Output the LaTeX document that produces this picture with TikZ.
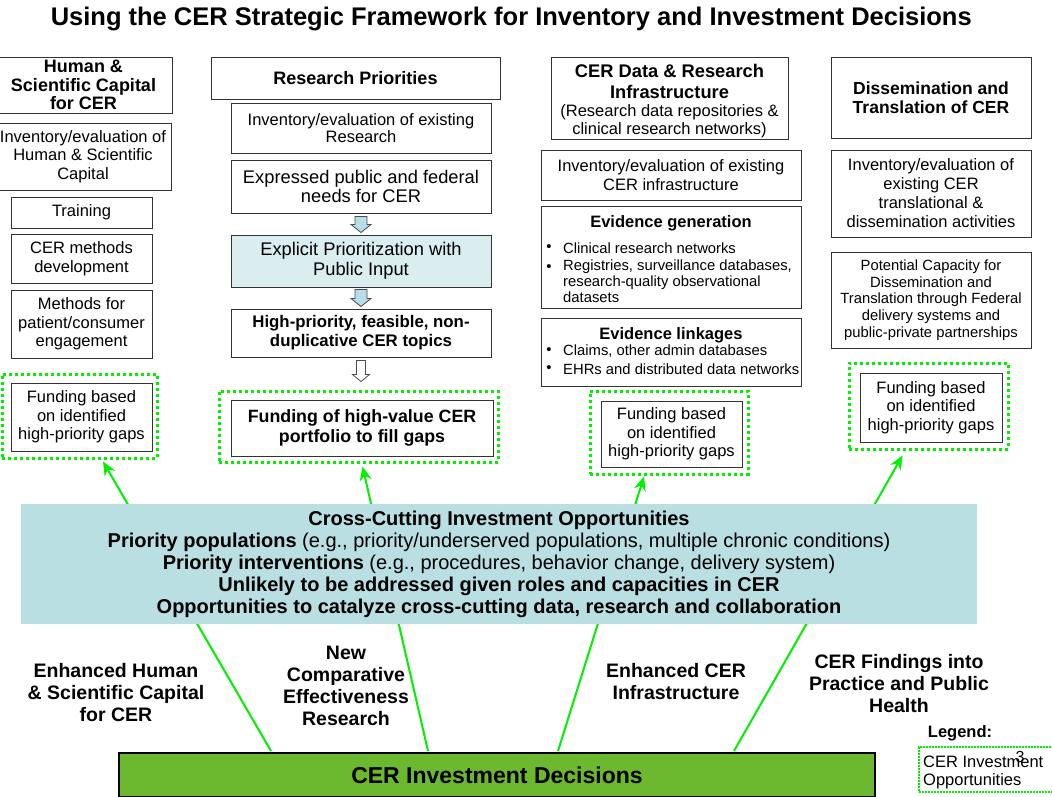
\documentclass[tikz,border=0pt]{standalone}
\usepackage{fontspec}
\setmainfont{Liberation Sans}
\usetikzlibrary{arrows.meta,calc}
\definecolor{ccfill}{RGB}{185,223,227}
\definecolor{prfill}{RGB}{218,238,240}
\definecolor{arfill}{RGB}{182,221,232}
\definecolor{barfill}{RGB}{108,184,46}
\definecolor{gline}{RGB}{0,240,0}
\newcommand\fsz[2]{\fontsize{#1}{#2}\selectfont}
% block arrow: start anchor, end anchor, gap start, gap end, shaft half, head half, head length, style
\newcommand\blockarr[8]{%
  \draw[#8] let \p1=(#1), \p2=(#2) in
    (\x1-#5pt,\y1-#3pt) -- (\x1+#5pt,\y1-#3pt) -- (\x1+#5pt,\y2+#4pt+#7pt)
    -- (\x1+#6pt,\y2+#4pt+#7pt) -- (\x1,\y2+#4pt) -- (\x1-#6pt,\y2+#4pt+#7pt)
    -- (\x1-#5pt,\y2+#4pt+#7pt) -- cycle;}
\begin{document}
\begin{tikzpicture}[x=1pt,y=-1pt,
  box/.style={draw=black!80,line width=1pt,fill=white,inner sep=0pt,align=center,font=\fsz{16.5}{18.5}},
  hdr/.style={box,font=\bfseries\fsz{18}{18.5}},
  txt/.style={inner sep=0pt,align=center},
  dotbox/.style={draw=gline,line width=3pt,dash pattern=on 3pt off 3pt,inner sep=0pt},
  garrow/.style={draw=gline,line width=2pt,-{Stealth[length=14pt,width=12pt]}},
  blockarrow/.style={draw=black!70,line width=0.8pt,fill=arfill},
  whitearrow/.style={draw=black!70,line width=0.8pt,fill=white},
  lbl/.style={align=center,inner sep=0pt,font=\bfseries\fsz{19.5}{22}},
]
\useasboundingbox (0,0) rectangle (1052,796);
\fill[white] (0,0) rectangle (1052,796);

% title
\node[txt,anchor=east,font=\bfseries\fsz{25.5}{28}] (title) at (972,19)
  {Using the CER Strategic Framework for Inventory and Investment Decisions};

% ---------- column 1
\node[hdr,minimum width=177,minimum height=56] (h1) at (83.5,85)
  {Human \&\\Scientific Capital\\for CER};
\node[box,minimum width=176,minimum height=67] (inv1) at (83,156.5)
  {Inventory/evaluation of\\Human \& Scientific\\Capital};
\node[box,minimum width=141,minimum height=31] (tr1) at (81.5,212.5) {Training};
\node[box,minimum width=141,minimum height=49] (md1) at (81.5,258.5)
  {CER methods\\development};
\node[box,minimum width=141,minimum height=68] (pe1) at (81.5,324)
  {Methods for\\patient/consumer\\engagement};
\node[dotbox,minimum width=155,minimum height=84] (f1o) at (79.5,416) {};
\node[box,minimum width=141,minimum height=68] (f1) at (81.5,417)
  {Funding based\\on identified\\high-priority gaps};

% ---------- column 2
\node[hdr,minimum width=289,minimum height=42] (h2) at (355.5,78) {Research Priorities};
\node[box,minimum width=260,minimum height=50,font=\fsz{16.5}{17.5}] (inv2) at (361,128)
  {Inventory/evaluation of existing\\Research};
\node[box,minimum width=260,minimum height=53,font=\fsz{18.3}{19.5}] (ex2) at (361,186.5)
  {Expressed public and federal\\needs for CER};
\node[box,fill=prfill,minimum width=260,minimum height=52,font=\fsz{18.3}{20}] (pr2) at (361,261)
  {Explicit Prioritization with\\Public Input};
\node[box,minimum width=260,minimum height=48,font=\bfseries\fsz{16.8}{19}] (hp2) at (361,333)
  {High-priority, feasible, non-\\duplicative CER topics};
\node[dotbox,minimum width=279,minimum height=71] (f2o) at (358.5,426.5) {};
\node[box,minimum width=262,minimum height=56,font=\bfseries\fsz{17.8}{20}] (f2) at (362,428)
  {Funding of high-value CER\\portfolio to fill gaps};
\blockarr{ex2.south}{pr2.north}{3}{2}{6}{10}{8}{blockarrow}
\blockarr{pr2.south}{hp2.north}{2}{2}{6}{10}{8}{blockarrow}
\blockarr{hp2.south}{f2o.north}{3}{8}{4.5}{8.5}{7}{whitearrow}

% ---------- column 3
\node[box,minimum width=237,minimum height=82] (h3) at (669.5,98) {};
\node[txt,font=\bfseries\fsz{18.3}{21}] (h3a) at (669.5,81)
  {CER Data \& Research\\Infrastructure};
\node[txt,font=\fsz{16.5}{17.5}] (h3b) at (669.5,121)
  {(Research data repositories \&\\clinical research networks)};
\node[box,minimum width=260,minimum height=50] (inv3) at (671,175)
  {Inventory/evaluation of existing\\CER infrastructure};
\node[box,minimum width=260,minimum height=102] (eg3) at (671,257) {};
\node[txt,font=\bfseries\fsz{16.5}{18}] (eg3t) at (671,223) {Evidence generation};
\node[txt,font=\fsz{14.8}{16.5}] (eg3b1) at (549,248) {•};
\node[txt,anchor=west,font=\fsz{14.8}{16.5}] (eg3i1) at (563,248) {Clinical research networks};
\node[txt,font=\fsz{14.8}{16.5}] (eg3b2) at (549,268) {•};
\node[txt,anchor=north west,align=left,font=\fsz{14.8}{16}] (eg3i2) at (563,259.5)
  {Registries, surveillance databases,\\research-quality observational\\datasets};
\node[box,minimum width=260,minimum height=68] (el3) at (671,352) {};
\node[txt,font=\bfseries\fsz{16.5}{18}] (el3t) at (671,335) {Evidence linkages};
\node[txt,font=\fsz{14.8}{16.5}] (el3b1) at (549,351) {•};
\node[txt,anchor=west,font=\fsz{14.8}{16.5}] (el3i1) at (563,351) {Claims, other admin databases};
\node[txt,font=\fsz{14.8}{16.5}] (el3b2) at (549,369) {•};
\node[txt,anchor=west,font=\fsz{14.8}{16.5}] (el3i2) at (563,369) {EHRs and distributed data networks};
\node[dotbox,minimum width=158,minimum height=83] (f3o) at (669,432.5) {};
\node[box,minimum width=141,minimum height=66] (f3) at (671.5,434)
  {Funding based\\on identified\\high-priority gaps};

% ---------- column 4
\node[hdr,minimum width=200,minimum height=81,font=\bfseries\fsz{17.5}{18.5}] (h4) at (931,97.5)
  {Dissemination and\\Translation of CER};
\node[box,minimum width=200,minimum height=87,font=\fsz{16.5}{19}] (inv4) at (931,193.5)
  {Inventory/evaluation of\\existing CER\\translational \&\\dissemination activities};
\node[box,minimum width=200,minimum height=96,font=\fsz{14.8}{16.7}] (pc4) at (931,300)
  {Potential Capacity for\\Dissemination and\\Translation through Federal\\delivery systems and\\public-private partnerships};
\node[dotbox,minimum width=159,minimum height=86] (f4o) at (928.5,406) {};
\node[box,minimum width=142,minimum height=69] (f4) at (931,407.5)
  {Funding based\\on identified\\high-priority gaps};

% ---------- green arrows (behind cross-cutting box)
\node[draw=black,line width=2pt,fill=barfill,minimum width=756,minimum height=44,inner sep=0pt,
  font=\bfseries\fsz{23}{26}] (bar) at (497,775) {CER Investment Decisions};
\draw[garrow] ($(bar.north west)+(153,-1)$) -- ($(f1o.south)+(23.5,2)$);
\draw[garrow] ($(bar.north west)+(310,-1)$) -- ($(f2o.south)+(4,3)$);
\draw[garrow] ($(bar.north west)+(440,-1)$) -- ($(f3o.south)+(-25,1)$);
\draw[garrow] ($(bar.north west)+(616,-1)$) -- ($(f4o.south)+(-26,5)$);

% ---------- cross-cutting box
\node[fill=ccfill,minimum width=956,minimum height=120,inner sep=0pt,align=center,
  font=\fsz{20}{22}] (cc) at (499,564)
  {\textbf{Cross-Cutting Investment Opportunities}\\
   \textbf{Priority populations} (e.g., priority/underserved populations, multiple chronic conditions)\\
   \textbf{Priority interventions} (e.g., procedures, behavior change, delivery system)\\
   \textbf{Unlikely to be addressed given roles and capacities in CER}\\
   \textbf{Opportunities to catalyze cross-cutting data, research and collaboration}};

% ---------- labels
\node[lbl] (lab1) at (116,693) {Enhanced Human\\\& Scientific Capital\\for CER};
\node[lbl] (lab2) at (346,686) {New\\Comparative\\Effectiveness\\Research};
\node[lbl] (lab3) at (676,682) {Enhanced CER\\Infrastructure};
\node[lbl] (lab4) at (899,684) {CER Findings into\\Practice and Public\\Health};

% ---------- legend
\node[txt,font=\bfseries\fsz{16.5}{18}] (legt) at (960,733) {Legend:};
\node[draw=gline,line width=2pt,dash pattern=on 2pt off 1pt,minimum width=138,minimum height=45,inner sep=0pt] (leg) at (988,769.5) {};
\node[txt,anchor=west,align=left,font=\fsz{16.5}{18}] (legx) at (923,772) {CER Investment\\Opportunities};
\node[txt,font=\fsz{16}{18}] (pg) at (1020,757) {3};
\end{tikzpicture}
\end{document}
